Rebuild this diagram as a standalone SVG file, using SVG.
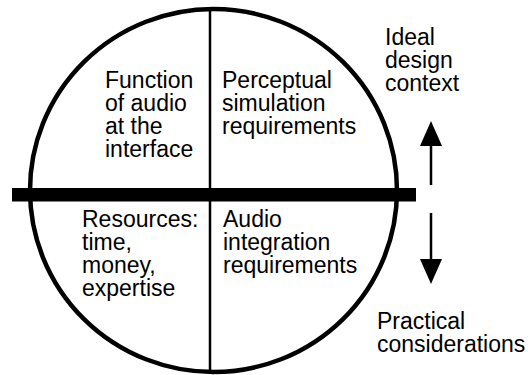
<svg xmlns="http://www.w3.org/2000/svg" width="528" height="375" viewBox="0 0 528 375">
<style>
text{font-family:"Liberation Sans",Arial,sans-serif;font-size:23px;fill:#000}
.thick{fill:none;stroke:#000;stroke-width:4.5}
.thin{stroke:#000;stroke-width:2.5;fill:none}
</style>
<defs>
<marker id="ah" viewBox="0 0 25 22" refX="0" refY="11" markerWidth="25" markerHeight="22" markerUnits="userSpaceOnUse" orient="auto">
<path d="M0,0 L25,11 L0,22 Z" fill="#000"/>
</marker>
</defs>
<g id="circle">
<ellipse class="thick" cx="213.5" cy="190.5" rx="183.5" ry="181.5"/>
<line class="thin" x1="210" y1="9" x2="210" y2="372"/>
<rect x="12" y="188" width="404" height="13.5" fill="#000"/>
</g>
<g id="connectors">
<line class="thin" x1="431" y1="185" x2="431" y2="146" marker-end="url(#ah)"/>
<line class="thin" x1="431" y1="213" x2="431" y2="259" marker-end="url(#ah)"/>
</g>
<g id="q1">
<text x="105" y="88">Function</text>
<text x="105" y="111">of audio</text>
<text x="105" y="134">at the</text>
<text x="105" y="157">interface</text>
</g>
<g id="q2">
<text x="222" y="88">Perceptual</text>
<text x="222" y="111">simulation</text>
<text x="222" y="134">requirements</text>
</g>
<g id="q3">
<text x="82" y="227">Resources:</text>
<text x="82" y="250">time,</text>
<text x="82" y="273">money,</text>
<text x="82" y="296">expertise</text>
</g>
<g id="q4">
<text x="223" y="227">Audio</text>
<text x="223" y="250">integration</text>
<text x="223" y="273">requirements</text>
</g>
<g id="ideal">
<text x="385" y="45">Ideal</text>
<text x="385" y="68">design</text>
<text x="385" y="91">context</text>
</g>
<g id="practical">
<text x="377" y="329">Practical</text>
<text x="377" y="352">considerations</text>
</g>
</svg>
